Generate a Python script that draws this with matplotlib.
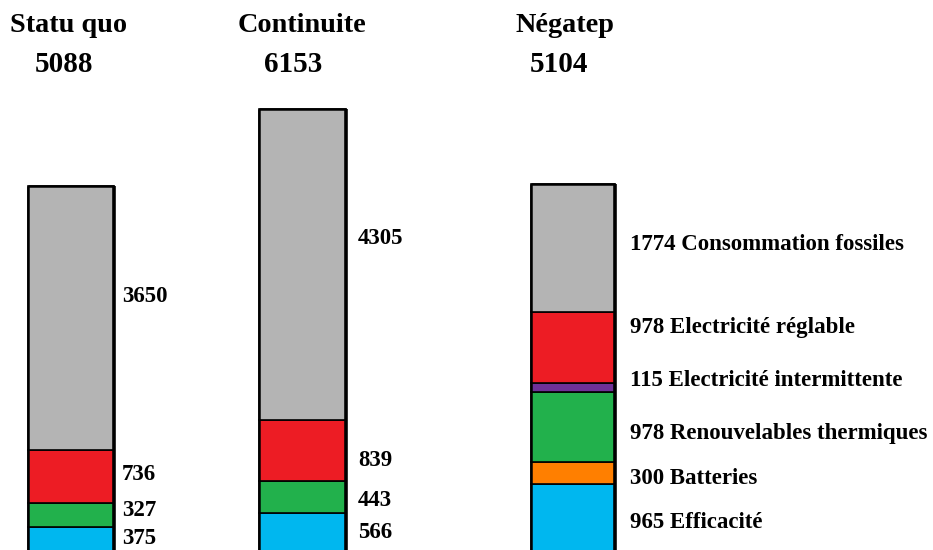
import matplotlib.pyplot as plt
import numpy as np

# scenarios and totals
scenarios = ['Statu quo', 'Continuite', 'Négatep']
totals = ['5088', '6153', '5104']

# segments from bottom to top for each scenario
sq_vals = [375, 327, 736, 3650]
sq_cols = ['#00b7ef', '#22b14c', '#ed1c24', '#b4b4b4']

co_vals = [566, 443, 839, 4305]
co_cols = ['#00b7ef', '#22b14c', '#ed1c24', '#b4b4b4']

ne_vals = [965, 300, 978, 115, 978, 1774]
ne_cols = ['#00b7ef', '#ff7f00', '#22b14c', '#6f3198', '#ed1c24', '#b4b4b4']
ne_names = ['Efficacité', 'Batteries', 'Renouvelables thermiques',
            'Electricité intermittente', 'Electricité réglable',
            'Consommation fossiles']

# layout (pixels)
W, H = 933, 550
xpos = [71, 302, 573]
widths = [86, 87, 84]
title_x = [10, 238, 515]
total_x = [35, 264, 530]
lab_x = [122, 358, 630]
sq_lab_y = [538, 511, 475, 297]
co_lab_y = [533, 500, 460, 238]
ne_lab_y = [523, 479, 434, 380, 327, 244]

plt.rcParams['font.family'] = ['Liberation Serif', 'DejaVu Serif']
fig = plt.figure(figsize=(W / 100, H / 100), dpi=100)
ax = fig.add_axes([0, 0, 1, 1])
ax.set_xlim(0, W)
ax.set_ylim(55, 7652)
ax.axis('off')

groups = [(sq_vals, sq_cols), (co_vals, co_cols), (ne_vals, ne_cols)]
for i, (vals, cols) in enumerate(groups):
    bottom = 0
    for v, c in zip(vals, cols):
        ax.bar(xpos[i], v, width=widths[i], bottom=bottom, color=c,
               edgecolor='black', linewidth=1.2)
        bottom += v
    left = xpos[i] - widths[i] / 2
    right = xpos[i] + widths[i] / 2
    ax.vlines(right, 0, bottom, color='black', linewidth=2.6)
    ax.vlines(left, 0, bottom, color='black', linewidth=1.8)
    ax.hlines(bottom, left, right, color='black', linewidth=1.8)


def px(x, y):
    return x / W, 1 - y / H


for i in range(3):
    fig.text(*px(title_x[i], 25), scenarios[i], fontsize=20.3, fontweight='bold',
             va='center', ha='left')
    fig.text(*px(total_x[i], 65), totals[i], fontsize=21, fontweight='bold',
             va='center', ha='left')

for v, y in zip(sq_vals, sq_lab_y):
    fig.text(*px(lab_x[0], y), str(v), fontsize=16.5, fontweight='bold',
             va='center', ha='left')
for v, y in zip(co_vals, co_lab_y):
    fig.text(*px(lab_x[1], y), str(v), fontsize=16.5, fontweight='bold',
             va='center', ha='left')
for v, n, y in zip(ne_vals, ne_names, ne_lab_y):
    fig.text(*px(lab_x[2], y), f'{v} {n}', fontsize=16.5, fontweight='bold',
             va='center', ha='left')

fig.savefig('out.png', dpi=100)
